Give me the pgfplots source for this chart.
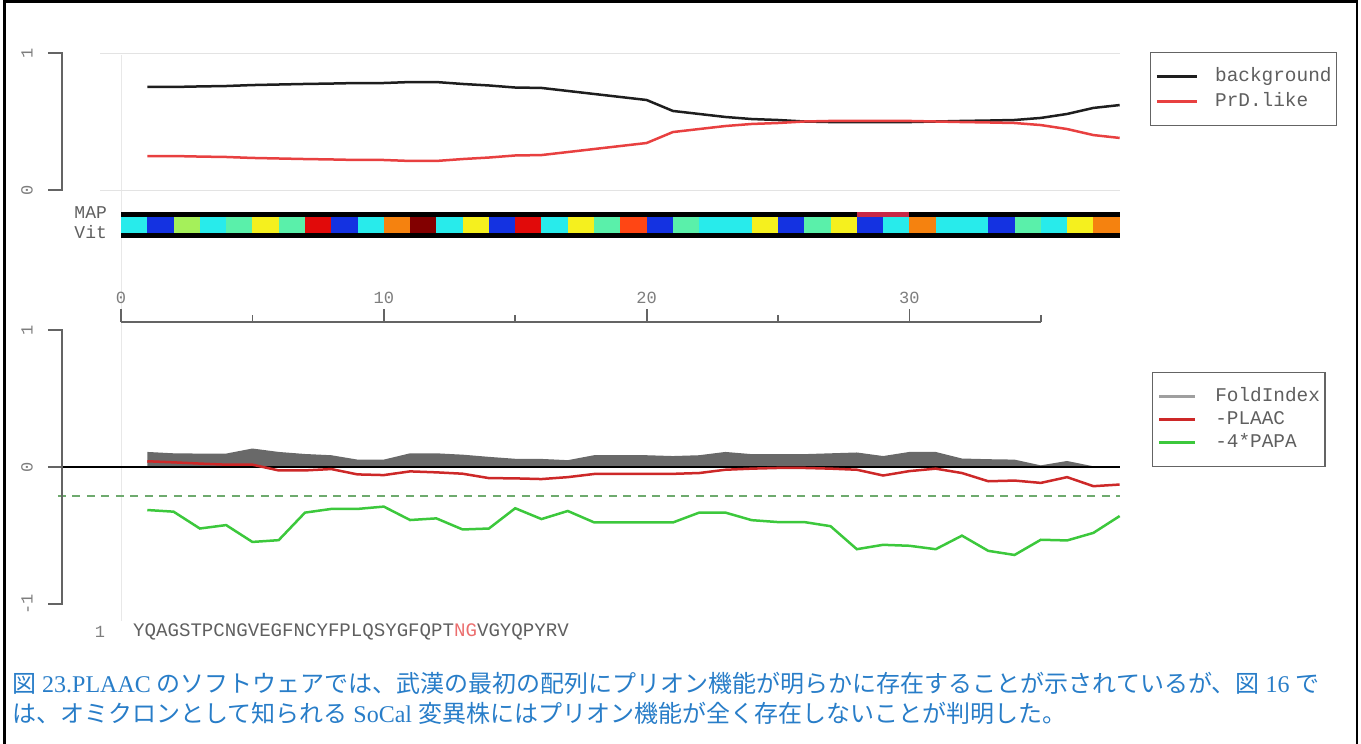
\documentclass[border=0pt]{standalone}
\usepackage{fontspec}
\setmainfont{Liberation Serif}
\setmonofont{Liberation Mono}
\newfontfamily\cjk{Noto Sans CJK JP}
\usepackage{pgfplots}
\usepackage{pgfplotstable}
\pgfplotsset{compat=1.18}

% line and label colours
\definecolor{bgline}{RGB}{30,30,30}
\definecolor{prdred}{RGB}{232,64,64}
\definecolor{plaacred}{RGB}{205,40,40}
\definecolor{papagreen}{RGB}{60,200,60}
\definecolor{dashgreen}{RGB}{110,170,110}
\definecolor{foldgray}{RGB}{105,105,105}
\definecolor{axgray}{RGB}{100,100,100}
\definecolor{lblgray}{RGB}{125,125,125}
\definecolor{legtext}{RGB}{95,95,95}
\definecolor{capblue}{RGB}{40,125,200}
\definecolor{seqred}{RGB}{235,110,110}
% residue colours of the MAP/Vit strip
\definecolor{cellcy}{RGB}{40,235,235}
\definecolor{cellbl}{RGB}{20,50,225}
\definecolor{cellyg}{RGB}{165,240,90}
\definecolor{cellaq}{RGB}{90,240,170}
\definecolor{cellye}{RGB}{245,240,30}
\definecolor{cellrd}{RGB}{225,10,10}
\definecolor{cellor}{RGB}{245,130,15}
\definecolor{celldr}{RGB}{130,0,0}
\definecolor{cellorr}{RGB}{255,70,20}
\definecolor{mapred}{RGB}{200,40,70}

\newcommand\lblfont{\ttfamily\fontsize{17}{20}\selectfont}
\newcommand\legfont{\ttfamily\fontsize{19.4}{22}\selectfont}

% HMM state probabilities
\pgfplotstableread{
x bg prd
1 0.752 0.248
2 0.752 0.248
3 0.756 0.244
4 0.759 0.241
5 0.766 0.234
6 0.770 0.230
7 0.774 0.226
8 0.777 0.223
9 0.781 0.219
10 0.781 0.219
11 0.788 0.212
12 0.788 0.212
13 0.774 0.226
14 0.763 0.237
15 0.748 0.252
16 0.745 0.255
17 0.723 0.277
18 0.701 0.299
19 0.679 0.321
20 0.657 0.343
21 0.577 0.423
22 0.555 0.445
23 0.533 0.467
24 0.518 0.482
25 0.511 0.489
26 0.500 0.500
27 0.496 0.504
28 0.496 0.504
29 0.496 0.504
30 0.496 0.504
31 0.500 0.500
32 0.504 0.496
33 0.507 0.493
34 0.511 0.489
35 0.526 0.474
36 0.555 0.445
37 0.599 0.401
38 0.620 0.380
}\upperdata

% FoldIndex, -PLAAC and -4*PAPA scores
\pgfplotstableread{
x fold plaac papa
1 0.110 0.042 -0.314
2 0.100 0.034 -0.326
3 0.098 0.025 -0.449
4 0.098 0.017 -0.424
5 0.135 0.017 -0.547
6 0.110 -0.025 -0.534
7 0.095 -0.025 -0.333
8 0.086 -0.015 -0.306
9 0.054 -0.054 -0.306
10 0.054 -0.059 -0.289
11 0.100 -0.032 -0.387
12 0.100 -0.039 -0.375
13 0.090 -0.049 -0.456
14 0.074 -0.081 -0.449
15 0.060 -0.083 -0.301
16 0.059 -0.088 -0.380
17 0.050 -0.074 -0.321
18 0.086 -0.051 -0.404
19 0.086 -0.051 -0.404
20 0.086 -0.051 -0.404
21 0.080 -0.050 -0.405
22 0.086 -0.044 -0.333
23 0.110 -0.020 -0.333
24 0.094 -0.012 -0.388
25 0.094 -0.007 -0.402
26 0.094 -0.007 -0.402
27 0.100 -0.012 -0.432
28 0.106 -0.020 -0.600
29 0.080 -0.062 -0.568
30 0.110 -0.030 -0.575
31 0.110 -0.012 -0.600
32 0.062 -0.044 -0.501
33 0.057 -0.104 -0.612
34 0.054 -0.099 -0.642
35 0.012 -0.116 -0.531
36 0.044 -0.074 -0.536
37 0.005 -0.140 -0.481
38 0.005 -0.128 -0.358
}\lowerdata

\pgfplotsset{
  seqaxis/.style={hide axis, clip=false, x=26.28pt, xmin=0, xmax=38},
  legbox/.style={legend cell align=left,
    legend style={anchor=north west, draw=axgray, line width=1.3pt, fill=white,
      inner xsep=5pt, inner ysep=16.5pt, font=\legfont, text=legtext,
      nodes={inner sep=0pt, text height=12pt, text depth=3pt}}},
}

\begin{document}
\begin{tikzpicture}
\useasboundingbox (0pt,0pt) rectangle (1361pt,-744pt);
\draw[line width=2.5pt] (4.5pt,-744pt) -- (4.5pt,-1.25pt) -- (1357pt,-1.25pt) -- (1357pt,-744pt);

% lower panel: FoldIndex, PLAAC, PAPA
\begin{axis}[seqaxis, y=137pt, ymin=-1, ymax=1,
  at={(121pt,-604pt)}, anchor=south west, legbox,
  legend style={at={(1.0325,0.8467)}, row sep=8pt,
    /tikz/every odd column/.style={column sep=19pt}},
  legend image code/.code={\draw[#1] (0pt,0pt) -- (36pt,0pt);}]
\draw[gray!18, line width=1pt] (axis cs:0,3.01) -- (axis cs:0,-1.124);
\addplot[fill=foldgray, draw=none, forget plot] table[x=x,y=fold]{\lowerdata} \closedcycle;
\addplot[black, line width=2pt, forget plot] coordinates {(-2.7,0) (38,0)};
\addplot[dashgreen, line width=2pt, dash pattern=on 8pt off 6.5pt, forget plot] coordinates {(-2.4,-0.212) (38,-0.212)};
\addplot[plaacred, line width=2.5pt, forget plot] table[x=x,y=plaac]{\lowerdata};
\addplot[papagreen, line width=2.5pt, forget plot] table[x=x,y=papa]{\lowerdata};
\draw[axgray, line width=1.8pt] (axis cs:-2.78,1) -- (axis cs:-2.245,1) -- (axis cs:-2.245,-1) -- (axis cs:-2.78,-1);
\draw[axgray, line width=1.8pt] (axis cs:-2.78,0) -- (axis cs:-2.245,0);
\node[rotate=90, text=lblgray, font=\lblfont] at (axis cs:-3.58,1) {1};
\node[rotate=90, text=lblgray, font=\lblfont] at (axis cs:-3.58,0) {0};
\node[rotate=90, text=lblgray, font=\lblfont] at (axis cs:-3.58,-1) {-1};
\addlegendimage{gray!75, line width=2.5pt}
\addlegendentry{FoldIndex}
\addlegendimage{plaacred, line width=2.5pt}
\addlegendentry{-PLAAC}
\addlegendimage{papagreen, line width=2.5pt}
\addlegendentry{-4*PAPA}
\end{axis}

% residue position scale
\begin{axis}[x=26.28pt, y=1pt, xmin=0, xmax=35, ymin=0, ymax=1,
  at={(121pt,-323pt)}, anchor=south west,
  axis x line=top, axis y line=none,
  axis line style={axgray, line width=1.8pt, -},
  tick align=outside, xtick={0,10,20,30}, xticklabels={0,10,20,30},
  minor xtick={5,15,25,35}, major tick length=13pt, minor tick length=7pt,
  tick style={axgray, line width=1.8pt},
  xticklabel style={font=\lblfont, text=lblgray, yshift=2pt}]
\end{axis}

% upper panel: background vs prion-like state
\begin{axis}[seqaxis, y=137pt, ymin=0, ymax=1,
  at={(121pt,-190pt)}, anchor=south west, legbox,
  legend style={at={(1.0304,1.007)}, row sep=10pt,
    /tikz/every odd column/.style={column sep=17pt}},
  legend image code/.code={\draw[#1] (0pt,0pt) -- (40pt,0pt);}]
\draw[gray!22, line width=1pt] (axis cs:-0.8,1) -- (axis cs:38,1);
\draw[gray!22, line width=1pt] (axis cs:-0.8,0) -- (axis cs:38,0);
\draw[axgray, line width=1.8pt] (axis cs:-2.78,1) -- (axis cs:-2.245,1) -- (axis cs:-2.245,0) -- (axis cs:-2.78,0);
\node[rotate=90, text=lblgray, font=\lblfont] at (axis cs:-3.58,1) {1};
\node[rotate=90, text=lblgray, font=\lblfont] at (axis cs:-3.58,0) {0};
\addplot[bgline, line width=2.5pt] table[x=x,y=bg]{\upperdata};
\addlegendentry{background}
\addplot[prdred, line width=2.5pt] table[x=x,y=prd]{\upperdata};
\addlegendentry{PrD.like}
\end{axis}

% MAP / Viterbi strip, one cell per residue
\begin{axis}[seqaxis, y=1pt, ymin=0, ymax=26,
  at={(121pt,-238pt)}, anchor=south west]
\foreach \i/\c in {1/cellcy,2/cellbl,3/cellyg,4/cellcy,5/cellaq,6/cellye,7/cellaq,8/cellrd,9/cellbl,10/cellcy,
  11/cellor,12/celldr,13/cellcy,14/cellye,15/cellbl,16/cellrd,17/cellcy,18/cellye,19/cellaq,20/cellorr,
  21/cellbl,22/cellaq,23/cellcy,24/cellcy,25/cellye,26/cellbl,27/cellaq,28/cellye,29/cellbl,30/cellcy,
  31/cellor,32/cellcy,33/cellcy,34/cellbl,35/cellaq,36/cellcy,37/cellye,38/cellor} {
  \pgfmathtruncatemacro\j{\i-1}
  \edef\cellplot{\noexpand\addplot[fill=\c, draw=none] coordinates {(\j,5) (\i,5) (\i,21) (\j,21)} -- cycle;}
  \cellplot
}
\addplot[fill=black, draw=none] coordinates {(0,0) (38,0) (38,5) (0,5)} -- cycle;
\addplot[fill=black, draw=none] coordinates {(0,21) (38,21) (38,26) (0,26)} -- cycle;
\addplot[fill=mapred, draw=none] coordinates {(28,21.5) (30,21.5) (30,26) (28,26)} -- cycle;
\node[anchor=east, inner sep=0pt, text=legtext, font=\ttfamily\fontsize{18}{20}\selectfont] at (axis cs:-0.53,25) {MAP};
\node[anchor=east, inner sep=0pt, text=legtext, font=\ttfamily\fontsize{18}{20}\selectfont] at (axis cs:-0.53,6) {Vit};
\end{axis}

% sequence
\node[text=lblgray, font=\ttfamily\fontsize{17}{20}\selectfont] at (100pt,-632pt) {1};
\node[anchor=west, inner sep=0pt, text=legtext, font=\ttfamily\fontsize{19.1}{22}\selectfont] at (133pt,-632pt)
  {YQAGSTPCNGVEGFNCYFPLQSYGFQPT\textcolor{seqred}{NG}VGYQPYRV};

% caption
\node[anchor=base west, inner sep=0pt, text=capblue, font=\fontsize{24}{30}\selectfont] at (12pt,-692pt)
  {{\cjk 図} 23.PLAAC {\cjk のソフトウェアでは、武漢の最初の配列にプリオン機能が明らかに存在することが示されているが、図} 16 {\cjk で}};
\node[anchor=base west, inner sep=0pt, text=capblue, font=\fontsize{24}{30}\selectfont] at (12pt,-722pt)
  {{\cjk は、オミクロンとして知られる} SoCal {\cjk 変異株にはプリオン機能が全く存在しないことが判明した。}};
\end{tikzpicture}
\end{document}
